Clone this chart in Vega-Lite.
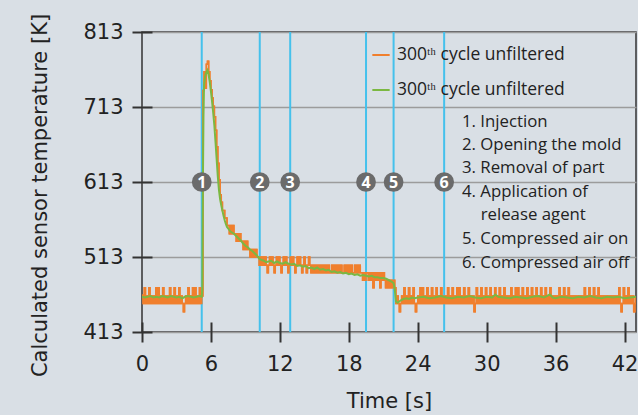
{
"$schema": "https://vega.github.io/schema/vega-lite/v6.json",
"width": 494, "height": 300,
"autosize": "none",
"padding": {"left": 142, "top": 32, "right": 2, "bottom": 83},
"background": "#d9dfe5",
"config": {"view": {"stroke": "#333333", "strokeWidth": 1.5}, "font": "Open Sans"},
"datasets": {
"orange": [
{"t":0,"o":462},{"t":0.1,"o":451},{"t":0.2,"o":472},{"t":0.3,"o":451},{"t":0.4,"o":461},{"t":0.5,"o":451},{"t":0.6,"o":472},{"t":0.7,"o":451},{"t":0.8,"o":461},{"t":0.9,"o":451},
{"t":1.0,"o":461},{"t":1.1,"o":451},{"t":1.2,"o":472},{"t":1.3,"o":451},{"t":1.4,"o":472},{"t":1.5,"o":451},{"t":1.6,"o":461},{"t":1.7,"o":451},{"t":1.8,"o":472},{"t":1.9,"o":451},
{"t":2.0,"o":461},{"t":2.1,"o":451},{"t":2.2,"o":461},{"t":2.3,"o":451},{"t":2.4,"o":472},{"t":2.5,"o":451},{"t":2.6,"o":461},{"t":2.7,"o":451},{"t":2.8,"o":472},{"t":2.9,"o":451},
{"t":3.0,"o":461},{"t":3.1,"o":451},{"t":3.2,"o":472},{"t":3.3,"o":451},{"t":3.4,"o":461},{"t":3.5,"o":451},{"t":3.6,"o":440},{"t":3.7,"o":451},{"t":3.8,"o":461},{"t":3.9,"o":451},
{"t":4.0,"o":472},{"t":4.1,"o":451},{"t":4.2,"o":461},{"t":4.3,"o":451},{"t":4.4,"o":472},{"t":4.5,"o":451},{"t":4.6,"o":472},{"t":4.7,"o":451},{"t":4.8,"o":461},{"t":4.9,"o":451},
{"t":5.0,"o":472},{"t":5.1,"o":451},{"t":5.2,"o":461},{"t":5.3,"o":735},{"t":5.4,"o":760},{"t":5.5,"o":738},{"t":5.6,"o":770},{"t":5.7,"o":774},{"t":5.8,"o":760},{"t":5.9,"o":748},
{"t":6.0,"o":736},{"t":6.1,"o":725},{"t":6.2,"o":714},{"t":6.3,"o":700},{"t":6.4,"o":682},{"t":6.5,"o":660},{"t":6.6,"o":638},{"t":6.7,"o":616},{"t":6.8,"o":596},{"t":6.9,"o":586},
{"t":7.0,"o":575},{"t":7.1,"o":575},{"t":7.2,"o":565},{"t":7.3,"o":565},{"t":7.4,"o":555},{"t":7.5,"o":555},{"t":7.6,"o":544},{"t":7.7,"o":555},{"t":7.8,"o":544},{"t":7.9,"o":555},
{"t":8.0,"o":544},{"t":8.1,"o":544},{"t":8.2,"o":534},{"t":8.3,"o":544},{"t":8.4,"o":534},{"t":8.5,"o":544},{"t":8.6,"o":534},{"t":8.7,"o":534},{"t":8.8,"o":523},{"t":8.9,"o":534},
{"t":9.0,"o":523},{"t":9.1,"o":534},{"t":9.2,"o":523},{"t":9.3,"o":523},{"t":9.4,"o":513},{"t":9.5,"o":523},{"t":9.6,"o":513},{"t":9.7,"o":523},{"t":9.8,"o":513},{"t":9.9,"o":523},
{"t":10.0,"o":513},{"t":10.1,"o":513},{"t":10.2,"o":502},{"t":10.3,"o":513},{"t":10.4,"o":502},{"t":10.5,"o":513},{"t":10.6,"o":502},{"t":10.7,"o":513},{"t":10.8,"o":502},{"t":10.9,"o":492},
{"t":11.0,"o":502},{"t":11.1,"o":513},{"t":11.2,"o":502},{"t":11.3,"o":513},{"t":11.4,"o":502},{"t":11.5,"o":492},{"t":11.6,"o":502},{"t":11.7,"o":513},{"t":11.8,"o":502},{"t":11.9,"o":513},
{"t":12.0,"o":502},{"t":12.1,"o":492},{"t":12.2,"o":502},{"t":12.3,"o":513},{"t":12.4,"o":502},{"t":12.5,"o":513},{"t":12.6,"o":502},{"t":12.7,"o":492},{"t":12.8,"o":502},{"t":12.9,"o":513},
{"t":13.0,"o":502},{"t":13.1,"o":513},{"t":13.2,"o":502},{"t":13.3,"o":492},{"t":13.4,"o":502},{"t":13.5,"o":513},{"t":13.6,"o":502},{"t":13.7,"o":513},{"t":13.8,"o":502},{"t":13.9,"o":492},
{"t":14.0,"o":502},{"t":14.1,"o":513},{"t":14.2,"o":502},{"t":14.3,"o":492},{"t":14.4,"o":502},{"t":14.5,"o":513},{"t":14.6,"o":502},{"t":14.7,"o":492},{"t":14.8,"o":502},{"t":14.9,"o":492},
{"t":15.0,"o":502},{"t":15.1,"o":492},{"t":15.2,"o":502},{"t":15.3,"o":492},{"t":15.4,"o":502},{"t":15.5,"o":492},{"t":15.6,"o":502},{"t":15.7,"o":492},{"t":15.8,"o":502},{"t":15.9,"o":492},
{"t":16.0,"o":502},{"t":16.1,"o":492},{"t":16.2,"o":502},{"t":16.3,"o":492},{"t":16.4,"o":492},{"t":16.5,"o":502},{"t":16.6,"o":492},{"t":16.7,"o":502},{"t":16.8,"o":492},{"t":16.9,"o":502},
{"t":17.0,"o":492},{"t":17.1,"o":502},{"t":17.2,"o":492},{"t":17.3,"o":502},{"t":17.4,"o":492},{"t":17.5,"o":492},{"t":17.6,"o":502},{"t":17.7,"o":492},{"t":17.8,"o":502},{"t":17.9,"o":492},
{"t":18.0,"o":502},{"t":18.1,"o":492},{"t":18.2,"o":502},{"t":18.3,"o":492},{"t":18.4,"o":492},{"t":18.5,"o":502},{"t":18.6,"o":492},{"t":18.7,"o":502},{"t":18.8,"o":492},{"t":18.9,"o":502},
{"t":19.0,"o":492},{"t":19.1,"o":492},{"t":19.2,"o":482},{"t":19.3,"o":492},{"t":19.4,"o":482},{"t":19.5,"o":492},{"t":19.6,"o":492},{"t":19.7,"o":482},{"t":19.8,"o":492},{"t":19.9,"o":482},
{"t":20.0,"o":492},{"t":20.1,"o":472},{"t":20.2,"o":492},{"t":20.3,"o":482},{"t":20.4,"o":492},{"t":20.5,"o":482},{"t":20.6,"o":492},{"t":20.7,"o":472},{"t":20.8,"o":492},{"t":20.9,"o":482},
{"t":21.0,"o":492},{"t":21.1,"o":482},{"t":21.2,"o":472},{"t":21.3,"o":482},{"t":21.4,"o":472},{"t":21.5,"o":482},{"t":21.6,"o":472},{"t":21.7,"o":482},{"t":21.8,"o":472},{"t":21.9,"o":482},
{"t":22.0,"o":472},{"t":22.1,"o":451},{"t":22.2,"o":461},{"t":22.3,"o":451},{"t":22.4,"o":440},{"t":22.5,"o":451},{"t":22.6,"o":461},{"t":22.7,"o":451},{"t":22.8,"o":472},{"t":22.9,"o":451},
{"t":23.0,"o":461},{"t":23.1,"o":451},{"t":23.2,"o":472},{"t":23.3,"o":451},{"t":23.4,"o":461},{"t":23.5,"o":451},{"t":23.6,"o":472},{"t":23.7,"o":451},{"t":23.8,"o":440},{"t":23.9,"o":451},
{"t":24.0,"o":461},{"t":24.1,"o":451},{"t":24.2,"o":472},{"t":24.3,"o":451},{"t":24.4,"o":472},{"t":24.5,"o":451},{"t":24.6,"o":461},{"t":24.7,"o":451},{"t":24.8,"o":472},{"t":24.9,"o":451},
{"t":25.0,"o":461},{"t":25.1,"o":451},{"t":25.2,"o":472},{"t":25.3,"o":451},{"t":25.4,"o":461},{"t":25.5,"o":451},{"t":25.6,"o":472},{"t":25.7,"o":451},{"t":25.8,"o":461},{"t":25.9,"o":451},
{"t":26.0,"o":472},{"t":26.1,"o":451},{"t":26.2,"o":461},{"t":26.3,"o":451},{"t":26.4,"o":461},{"t":26.5,"o":451},{"t":26.6,"o":472},{"t":26.7,"o":451},{"t":26.8,"o":461},{"t":26.9,"o":451},
{"t":27.0,"o":472},{"t":27.1,"o":451},{"t":27.2,"o":461},{"t":27.3,"o":451},{"t":27.4,"o":472},{"t":27.5,"o":451},{"t":27.6,"o":472},{"t":27.7,"o":451},{"t":27.8,"o":461},{"t":27.9,"o":451},
{"t":28.0,"o":472},{"t":28.1,"o":451},{"t":28.2,"o":461},{"t":28.3,"o":451},{"t":28.4,"o":472},{"t":28.5,"o":451},{"t":28.6,"o":461},{"t":28.7,"o":451},{"t":28.8,"o":461},{"t":28.9,"o":440},
{"t":29.0,"o":451},{"t":29.1,"o":472},{"t":29.2,"o":451},{"t":29.3,"o":461},{"t":29.4,"o":451},{"t":29.5,"o":472},{"t":29.6,"o":451},{"t":29.7,"o":461},{"t":29.8,"o":451},{"t":29.9,"o":472},
{"t":30.0,"o":451},{"t":30.1,"o":461},{"t":30.2,"o":451},{"t":30.3,"o":472},{"t":30.4,"o":451},{"t":30.5,"o":461},{"t":30.6,"o":451},{"t":30.7,"o":472},{"t":30.8,"o":451},{"t":30.9,"o":461},
{"t":31.0,"o":451},{"t":31.1,"o":472},{"t":31.2,"o":451},{"t":31.3,"o":461},{"t":31.4,"o":451},{"t":31.5,"o":472},{"t":31.6,"o":451},{"t":31.7,"o":461},{"t":31.8,"o":451},{"t":31.9,"o":461},
{"t":32.0,"o":451},{"t":32.1,"o":472},{"t":32.2,"o":451},{"t":32.3,"o":461},{"t":32.4,"o":451},{"t":32.5,"o":472},{"t":32.6,"o":451},{"t":32.7,"o":472},{"t":32.8,"o":451},{"t":32.9,"o":461},
{"t":33.0,"o":451},{"t":33.1,"o":472},{"t":33.2,"o":451},{"t":33.3,"o":461},{"t":33.4,"o":451},{"t":33.5,"o":472},{"t":33.6,"o":451},{"t":33.7,"o":461},{"t":33.8,"o":451},{"t":33.9,"o":472},
{"t":34.0,"o":451},{"t":34.1,"o":461},{"t":34.2,"o":451},{"t":34.3,"o":472},{"t":34.4,"o":451},{"t":34.5,"o":461},{"t":34.6,"o":451},{"t":34.7,"o":472},{"t":34.8,"o":451},{"t":34.9,"o":461},
{"t":35.0,"o":451},{"t":35.1,"o":472},{"t":35.2,"o":451},{"t":35.3,"o":461},{"t":35.4,"o":451},{"t":35.5,"o":472},{"t":35.6,"o":451},{"t":35.7,"o":461},{"t":35.8,"o":451},{"t":35.9,"o":461},
{"t":36.0,"o":451},{"t":36.1,"o":461},{"t":36.2,"o":451},{"t":36.3,"o":472},{"t":36.4,"o":451},{"t":36.5,"o":461},{"t":36.6,"o":451},{"t":36.7,"o":472},{"t":36.8,"o":451},{"t":36.9,"o":461},
{"t":37.0,"o":451},{"t":37.1,"o":472},{"t":37.2,"o":451},{"t":37.3,"o":461},{"t":37.4,"o":451},{"t":37.5,"o":461},{"t":37.6,"o":451},{"t":37.7,"o":461},{"t":37.8,"o":451},{"t":37.9,"o":461},
{"t":38.0,"o":451},{"t":38.1,"o":461},{"t":38.2,"o":451},{"t":38.3,"o":461},{"t":38.4,"o":451},{"t":38.5,"o":472},{"t":38.6,"o":451},{"t":38.7,"o":461},{"t":38.8,"o":451},{"t":38.9,"o":472},
{"t":39.0,"o":451},{"t":39.1,"o":461},{"t":39.2,"o":451},{"t":39.3,"o":472},{"t":39.4,"o":451},{"t":39.5,"o":461},{"t":39.6,"o":451},{"t":39.7,"o":472},{"t":39.8,"o":451},{"t":39.9,"o":461},
{"t":40.0,"o":451},{"t":40.1,"o":461},{"t":40.2,"o":451},{"t":40.3,"o":461},{"t":40.4,"o":451},{"t":40.5,"o":461},{"t":40.6,"o":451},{"t":40.7,"o":461},{"t":40.8,"o":451},{"t":40.9,"o":461},
{"t":41.0,"o":451},{"t":41.1,"o":461},{"t":41.2,"o":451},{"t":41.3,"o":461},{"t":41.4,"o":451},{"t":41.5,"o":472},{"t":41.6,"o":451},{"t":41.7,"o":440},{"t":41.8,"o":451},{"t":41.9,"o":472},
{"t":42.0,"o":451},{"t":42.1,"o":461},{"t":42.2,"o":451},{"t":42.3,"o":472},{"t":42.4,"o":451},{"t":42.5,"o":461},{"t":42.6,"o":451},{"t":42.7,"o":461},{"t":42.8,"o":440},{"t":42.9,"o":451},
{"t":43.0,"o":461}
],
"green": [
{"t":0,"g":460},{"t":0.25,"g":459},{"t":0.5,"g":460},{"t":0.75,"g":461},{"t":1.0,"g":459},{"t":1.25,"g":460},{"t":1.5,"g":459},{"t":1.75,"g":461},{"t":2.0,"g":460},{"t":2.25,"g":459},
{"t":2.5,"g":461},{"t":2.75,"g":460},{"t":3.0,"g":459},{"t":3.25,"g":460},{"t":3.5,"g":458},{"t":3.75,"g":460},{"t":4.0,"g":461},{"t":4.25,"g":460},{"t":4.5,"g":459},{"t":4.75,"g":460},
{"t":5.0,"g":461},{"t":5.2,"g":460},{"t":5.25,"g":470},{"t":5.3,"g":610},{"t":5.35,"g":700},{"t":5.4,"g":742},{"t":5.5,"g":754},{"t":5.6,"g":759},{"t":5.7,"g":762},{"t":5.8,"g":756},
{"t":5.9,"g":746},{"t":6.0,"g":734},{"t":6.1,"g":720},{"t":6.2,"g":705},{"t":6.3,"g":688},{"t":6.4,"g":666},{"t":6.5,"g":643},{"t":6.6,"g":620},{"t":6.7,"g":602},{"t":6.8,"g":590},
{"t":6.9,"g":582},{"t":7.0,"g":575},{"t":7.1,"g":568},{"t":7.2,"g":562},{"t":7.3,"g":557},{"t":7.4,"g":553},{"t":7.5,"g":551},{"t":7.6,"g":549},{"t":7.7,"g":547},{"t":7.8,"g":546},
{"t":8.0,"g":544},{"t":8.2,"g":541},{"t":8.4,"g":538},{"t":8.6,"g":535},{"t":8.8,"g":531},{"t":9.0,"g":528},{"t":9.2,"g":526},{"t":9.4,"g":523},{"t":9.6,"g":521},{"t":9.8,"g":518},
{"t":10.0,"g":515},{"t":10.2,"g":511},{"t":10.4,"g":509},{"t":10.6,"g":508},{"t":10.8,"g":506},{"t":11.0,"g":507},{"t":11.25,"g":508},{"t":11.5,"g":505},{"t":11.75,"g":507},{"t":12.0,"g":505},
{"t":12.25,"g":504},{"t":12.5,"g":506},{"t":12.75,"g":504},{"t":13.0,"g":503},{"t":13.25,"g":504},{"t":13.5,"g":501},{"t":13.75,"g":502},{"t":14.0,"g":500},{"t":14.25,"g":501},{"t":14.5,"g":498},
{"t":14.75,"g":499},{"t":15.0,"g":497},{"t":15.25,"g":499},{"t":15.5,"g":496},{"t":15.75,"g":497},{"t":16.0,"g":495},{"t":16.25,"g":496},{"t":16.5,"g":493},{"t":16.75,"g":494},{"t":17.0,"g":492},
{"t":17.25,"g":493},{"t":17.5,"g":491},{"t":17.75,"g":492},{"t":18.0,"g":490},{"t":18.25,"g":491},{"t":18.5,"g":489},{"t":18.75,"g":490},{"t":19.0,"g":488},{"t":19.25,"g":489},{"t":19.5,"g":488},
{"t":19.75,"g":487},{"t":20.0,"g":488},{"t":20.25,"g":486},{"t":20.5,"g":486},{"t":20.75,"g":485},{"t":21.0,"g":485},{"t":21.25,"g":484},{"t":21.5,"g":482},{"t":21.75,"g":480},{"t":21.9,"g":478},
{"t":22.0,"g":470},{"t":22.1,"g":454},{"t":22.25,"g":452},{"t":22.5,"g":455},{"t":22.75,"g":457},{"t":23.0,"g":458},{"t":23.25,"g":457},{"t":23.5,"g":459},{"t":23.75,"g":458},{"t":24.0,"g":459},
{"t":24.5,"g":460},{"t":25.0,"g":458},{"t":25.5,"g":459},{"t":26.0,"g":461},{"t":26.5,"g":459},{"t":27.0,"g":458},{"t":27.5,"g":460},{"t":28.0,"g":459},{"t":28.5,"g":461},{"t":29.0,"g":459},
{"t":29.5,"g":458},{"t":30.0,"g":460},{"t":30.5,"g":459},{"t":30.75,"g":463},{"t":31.0,"g":460},{"t":31.5,"g":459},{"t":32.0,"g":458},{"t":32.5,"g":460},{"t":33.0,"g":459},{"t":33.5,"g":458},
{"t":34.0,"g":460},{"t":34.5,"g":461},{"t":35.0,"g":459},{"t":35.5,"g":463},{"t":35.75,"g":459},{"t":36.0,"g":458},{"t":36.5,"g":460},{"t":37.0,"g":459},{"t":37.5,"g":458},{"t":38.0,"g":460},
{"t":38.5,"g":459},{"t":39.0,"g":461},{"t":39.5,"g":459},{"t":40.0,"g":458},{"t":40.5,"g":460},{"t":41.0,"g":459},{"t":41.5,"g":460},{"t":42.0,"g":458},{"t":42.5,"g":459},{"t":43.0,"g":460}
],
"events": [
{"t":5.2,"n":"1"},{"t":10.25,"n":"2"},{"t":12.9,"n":"3"},{"t":19.5,"n":"4"},{"t":21.9,"n":"5"},{"t":26.3,"n":"6"}
],
"notes": [
{"t":27.85,"v":693,"label":"1. Injection"},
{"t":27.85,"v":663,"label":"2. Opening the mold"},
{"t":27.85,"v":632,"label":"3. Removal of part"},
{"t":27.85,"v":600,"label":"4. Application of"},
{"t":29.48,"v":569,"label":"release agent"},
{"t":27.85,"v":537,"label":"5. Compressed air on"},
{"t":27.85,"v":505,"label":"6. Compressed air off"}
]
},
"layer": [
{
"data": {"name": "orange"},
"mark": {"type": "line", "interpolate": "step-after", "strokeWidth": 1.5, "clip": true},
"encoding": {
"x": {"field": "t", "type": "quantitative",
"scale": {"domain": [0, 43], "nice": false, "zero": false},
"axis": {"title": "Time [s]", "values": [0, 6, 12, 18, 24, 30, 36, 42], "grid": false, "domain": false,
"offset": -10, "tickSize": 20, "tickWidth": 2, "tickColor": "#333333",
"labelFont": "DejaVu Sans", "labelFontSize": 21, "labelColor": "#222222", "labelPadding": 11, "labelFlush": false, "labelOverlap": false,
"titleFont": "DejaVu Sans", "titleFontSize": 21, "titleFontWeight": "normal", "titleColor": "#222222", "titlePadding": 16}},
"y": {"field": "o", "type": "quantitative",
"scale": {"domain": [413, 813], "nice": false, "zero": false},
"axis": {"title": "Calculated sensor temperature [K]", "values": [413, 463, 513, 563, 613, 663, 713, 763, 813],
"labelExpr": "datum.value % 100 == 13 ? datum.label : ''",
"grid": true, "gridColor": "#9c9c9c", "gridWidth": 1.5, "domain": false,
"offset": -10, "tickSize": 20, "tickWidth": 2, "tickColor": "#333333",
"labelFont": "DejaVu Sans", "labelFontSize": 21, "labelColor": "#222222", "labelPadding": 9, "labelFlush": false, "labelOverlap": false,
"titleFont": "DejaVu Sans", "titleFontSize": 21, "titleFontWeight": "normal", "titleColor": "#222222", "titlePadding": 32, "titleY": 163}},
"color": {"datum": "a", "type": "nominal",
"scale": {"domain": ["a", "b"], "range": ["#f07f2d", "#7bb842"]},
"legend": {"orient": "none", "legendX": 229, "legendY": 13, "title": null, "padding": 0,
"labelExpr": "'300\u1d57\u02b0 cycle unfiltered'", "labelLimit": 0, "symbolType": "stroke", "symbolSize": 300, "symbolStrokeWidth": 2,
"labelFontSize": 17.5, "labelColor": "#222222", "labelOffset": 6, "rowPadding": 16}}
}
},
{
"data": {"name": "events"},
"mark": {"type": "rule", "color": "#45c1ec", "strokeWidth": 2},
"encoding": {"x": {"field": "t", "type": "quantitative"}}
},
{
"data": {"name": "orange"},
"mark": {"type": "line", "interpolate": "step-after", "strokeWidth": 1.5, "clip": true},
"encoding": {
"x": {"field": "t", "type": "quantitative"},
"y": {"field": "o", "type": "quantitative"},
"color": {"datum": "a", "type": "nominal"}
}
},
{
"data": {"name": "green"},
"mark": {"type": "line", "strokeWidth": 2, "clip": true},
"encoding": {
"x": {"field": "t", "type": "quantitative"},
"y": {"field": "g", "type": "quantitative"},
"color": {"datum": "b", "type": "nominal"}
}
},
{
"data": {"name": "events"},
"mark": {"type": "circle", "size": 390, "color": "#6b6b6b", "opacity": 1},
"encoding": {"x": {"field": "t", "type": "quantitative"}, "y": {"datum": 613}}
},
{
"data": {"name": "events"},
"mark": {"type": "text", "color": "#ffffff", "fontSize": 16, "fontWeight": "bold", "align": "center", "baseline": "middle", "dy": 1},
"encoding": {"x": {"field": "t", "type": "quantitative"}, "y": {"datum": 613}, "text": {"field": "n"}}
},
{
"data": {"name": "notes"},
"mark": {"type": "text", "color": "#222222", "fontSize": 16.8, "align": "left", "baseline": "middle"},
"encoding": {"x": {"field": "t", "type": "quantitative"}, "y": {"field": "v", "type": "quantitative"}, "text": {"field": "label"}}
}
]
}
